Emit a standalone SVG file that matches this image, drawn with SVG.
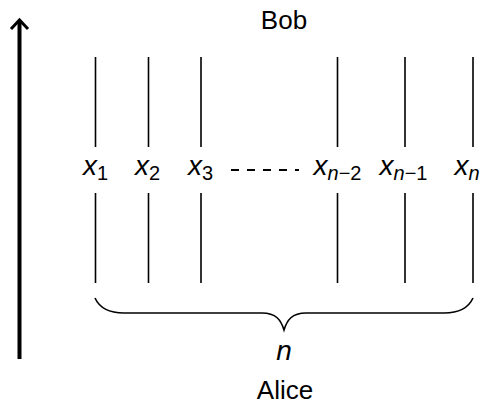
<svg xmlns="http://www.w3.org/2000/svg" width="488" height="410" viewBox="0 0 488 410">
<style>
text{font-family:"Liberation Sans",Arial,sans-serif;fill:#000}
.t{font-size:26px}
.v{font-size:28px;font-style:italic}
.s{font-size:20px}
.si{font-size:20px;font-style:italic}
.wire{stroke:#000;stroke-width:1.6;fill:none}
</style>
<rect width="488" height="410" fill="#fff"/>
<g id="axis">
<line x1="19.5" y1="359" x2="19.5" y2="21" stroke="#000" stroke-width="4"/>
<polyline points="11,29 19.5,20 28,29" fill="none" stroke="#000" stroke-width="3"/>
</g>
<g id="bob"><text class="t" x="284" y="29" text-anchor="middle">Bob</text></g>
<g id="alice"><text class="t" x="285" y="399" text-anchor="middle">Alice</text></g>
<g id="connectors">
<path class="wire" d="M95.5,57V147M95.5,193V283"/>
<path class="wire" d="M148.5,57V147M148.5,193V283"/>
<path class="wire" d="M201,57V147M201,193V283"/>
<path class="wire" d="M337.5,57V147M337.5,193V283"/>
<path class="wire" d="M405,57V147M405,193V283"/>
<path class="wire" d="M473,57V147M473,193V283"/>
<line x1="231" y1="170" x2="299" y2="170" stroke="#000" stroke-width="1.8" stroke-dasharray="8 8"/>
<path class="wire" d="M95,298C100,309 110,313 124,313L262,313C276,313 281,320 284,330C287,320 292,313 306,313L444,313C458,313 468,309 473,298"/>
</g>
<g id="x1"><text x="95.5" y="175" text-anchor="middle"><tspan class="v">x</tspan><tspan class="s" dy="5">1</tspan></text></g>
<g id="x2"><text x="147.5" y="175" text-anchor="middle"><tspan class="v">x</tspan><tspan class="s" dy="5">2</tspan></text></g>
<g id="x3"><text x="200.5" y="175" text-anchor="middle"><tspan class="v">x</tspan><tspan class="s" dy="5">3</tspan></text></g>
<g id="xn2"><text x="337.5" y="175" text-anchor="middle"><tspan class="v">x</tspan><tspan class="si" dy="5">n</tspan><tspan class="s">−2</tspan></text></g>
<g id="xn1"><text x="403.5" y="175" text-anchor="middle"><tspan class="v">x</tspan><tspan class="si" dy="5">n</tspan><tspan class="s">−1</tspan></text></g>
<g id="xn"><text x="467" y="175" text-anchor="middle"><tspan class="v">x</tspan><tspan class="si" dy="5">n</tspan></text></g>
<g id="n"><text class="v" x="284" y="360" text-anchor="middle">n</text></g>
</svg>
